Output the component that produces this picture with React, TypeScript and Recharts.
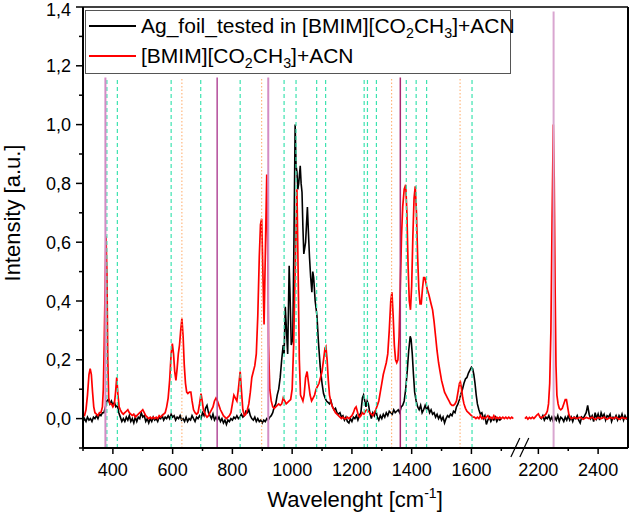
import React from 'react';
import { LineChart, Line, XAxis, YAxis, ReferenceLine, Legend } from 'recharts';

// wavenumber [cm-1], intensity [a.u.] — low range and high range (axis is broken between them)
const agFoilLow: [number, number][] = [
  [300, -0.01], [305, 0.0], [310, -0.01], [315, 0.005], [320, -0.005], [325, 0.0], [330, -0.01], [335, 0.005],
  [340, 0.0], [345, 0.01], [350, 0.0], [355, 0.015], [360, 0.01], [365, 0.02], [370, 0.02], [375, 0.04],
  [380, 0.06], [385, 0.065], [390, 0.05], [395, 0.06], [400, 0.045], [405, 0.055], [410, 0.04], [415, 0.045],
  [420, 0.02], [425, 0.005], [430, -0.01], [435, 0.0], [440, -0.01], [445, 0.005], [450, -0.005], [455, 0.01],
  [460, -0.01], [465, 0.0], [470, -0.015], [475, 0.005], [480, -0.01], [485, 0.005], [490, 0.0], [495, 0.02],
  [500, 0.005], [505, 0.01], [510, -0.01], [515, 0.0], [520, -0.015], [525, 0.0], [530, -0.01], [535, 0.005],
  [540, -0.005], [545, 0.0], [550, -0.01], [555, 0.005], [560, 0.0], [565, 0.01], [570, -0.005], [575, 0.005],
  [580, 0.0], [585, 0.01], [590, 0.0], [595, 0.015], [600, 0.005], [605, 0.01], [610, -0.005], [615, 0.005],
  [620, 0.0], [625, 0.01], [630, -0.005], [635, 0.0], [640, -0.01], [645, 0.005], [650, -0.01], [655, 0.0],
  [660, -0.005], [665, 0.01], [670, 0.0], [675, -0.01], [680, 0.005], [685, 0.0], [690, 0.01], [695, 0.0],
  [700, 0.02], [705, 0.01], [710, 0.035], [715, 0.045], [720, 0.02], [725, 0.01], [730, 0.0], [735, 0.015],
  [740, -0.005], [745, 0.005], [750, -0.005], [755, 0.005], [760, -0.01], [765, 0.0], [770, -0.015], [775, -0.005],
  [780, -0.02], [785, -0.005], [790, -0.01], [795, 0.0], [800, -0.005], [805, 0.005], [810, 0.0], [815, 0.01],
  [820, 0.0], [825, 0.005], [830, 0.015], [835, 0.005], [840, 0.01], [845, 0.025], [850, 0.02], [855, 0.03],
  [860, 0.01], [865, 0.0], [870, -0.005], [875, 0.005], [880, -0.01], [885, 0.0], [890, -0.01], [895, -0.005],
  [900, -0.015], [905, -0.005], [910, -0.01], [915, 0.0], [920, -0.005], [925, 0.005], [930, 0.01], [935, 0.02],
  [940, 0.04], [945, 0.05], [950, 0.08], [955, 0.1], [960, 0.14], [965, 0.2], [970, 0.25], [973, 0.22],
  [977, 0.38], [981, 0.3], [985, 0.22], [990, 0.52], [993, 0.42], [997, 0.25], [1002, 0.27], [1006, 0.6],
  [1010, 1.0], [1013, 0.86], [1016, 0.84], [1019, 0.78], [1022, 0.8], [1027, 0.86], [1030, 0.8], [1033, 0.77],
  [1036, 0.65], [1039, 0.56], [1042, 0.58], [1045, 0.6], [1048, 0.66], [1051, 0.72], [1055, 0.62], [1058, 0.55],
  [1062, 0.48], [1066, 0.43], [1069, 0.5], [1072, 0.48], [1077, 0.4], [1083, 0.35], [1088, 0.26], [1094, 0.175],
  [1100, 0.12], [1105, 0.085], [1110, 0.07], [1115, 0.06], [1120, 0.055], [1125, 0.05], [1130, 0.06], [1135, 0.04],
  [1140, 0.03], [1145, 0.035], [1150, 0.02], [1155, 0.015], [1160, 0.02], [1165, 0.005], [1170, 0.01], [1175, -0.005],
  [1180, 0.005], [1185, -0.01], [1190, -0.015], [1195, 0.0], [1200, -0.01], [1205, 0.005], [1210, 0.0], [1215, 0.01],
  [1220, -0.005], [1225, 0.01], [1230, 0.02], [1235, 0.07], [1239, 0.08], [1243, 0.06], [1247, 0.04], [1251, 0.06],
  [1255, 0.05], [1260, 0.02], [1265, 0.0], [1270, 0.02], [1275, 0.01], [1280, 0.03], [1285, 0.005], [1290, -0.005],
  [1295, 0.01], [1300, 0.0], [1305, 0.015], [1310, 0.005], [1315, 0.02], [1320, 0.01], [1325, 0.025], [1330, 0.02],
  [1335, 0.015], [1340, 0.03], [1345, 0.02], [1350, 0.025], [1355, 0.03], [1360, 0.02], [1365, 0.04], [1370, 0.045],
  [1375, 0.06], [1380, 0.1], [1385, 0.16], [1390, 0.23], [1395, 0.28], [1398, 0.27], [1402, 0.22], [1406, 0.15],
  [1410, 0.09], [1415, 0.06], [1420, 0.04], [1425, 0.03], [1430, 0.045], [1435, 0.02], [1440, 0.03], [1445, 0.045],
  [1450, 0.03], [1455, 0.04], [1460, 0.02], [1465, 0.03], [1470, 0.015], [1475, 0.02], [1480, 0.005], [1485, 0.015],
  [1490, 0.0], [1495, 0.01], [1500, -0.005], [1505, 0.005], [1510, -0.015], [1515, 0.0], [1520, 0.01], [1525, 0.005],
  [1530, 0.015], [1535, 0.01], [1540, 0.025], [1545, 0.02], [1550, 0.04], [1555, 0.05], [1560, 0.065], [1565, 0.085],
  [1570, 0.1], [1575, 0.12], [1580, 0.135], [1585, 0.14], [1590, 0.155], [1595, 0.165], [1600, 0.175], [1604, 0.17],
  [1608, 0.15], [1612, 0.12], [1616, 0.08], [1620, 0.05], [1625, 0.03], [1630, 0.015], [1635, 0.02], [1640, 0.0],
  [1645, 0.01], [1650, -0.02], [1655, -0.005], [1660, 0.005], [1665, -0.01], [1670, 0.0], [1675, -0.005], [1680, 0.005],
  [1685, -0.01], [1690, 0.0], [1695, -0.005], [1700, 0.0],
];

const agFoilHigh: [number, number][] = [
  [2205, 0.005], [2210, 0.0], [2215, 0.01], [2220, -0.005], [2225, 0.005], [2230, 0.0], [2235, 0.01], [2240, -0.005],
  [2245, 0.005], [2250, -0.01], [2255, 0.005], [2260, -0.005], [2265, 0.01], [2270, -0.01], [2275, 0.005], [2280, 0.0],
  [2285, -0.01], [2290, 0.005], [2295, -0.005], [2300, 0.01], [2305, -0.005], [2310, 0.005], [2315, -0.01], [2320, 0.005],
  [2325, 0.0], [2330, 0.01], [2335, -0.005], [2340, -0.015], [2345, 0.005], [2350, 0.0], [2355, 0.01], [2360, 0.02],
  [2365, 0.045], [2370, 0.015], [2375, 0.0], [2380, 0.01], [2385, -0.01], [2390, 0.02], [2395, 0.0], [2400, 0.015],
  [2405, -0.005], [2410, 0.02], [2415, 0.005], [2420, 0.015], [2425, -0.005], [2430, 0.01], [2435, 0.005], [2440, 0.015],
  [2445, -0.01], [2450, 0.005], [2455, 0.0], [2460, 0.01], [2465, -0.005], [2470, 0.01], [2475, 0.0], [2480, 0.015],
  [2485, -0.005], [2490, 0.01], [2495, 0.0], [2500, 0.005],
];

const bmimLow: [number, number][] = [
  [300, 0.01], [305, 0.01], [310, 0.03], [315, 0.08], [320, 0.15], [324, 0.17], [328, 0.15], [332, 0.09],
  [336, 0.04], [340, 0.02], [345, 0.015], [350, 0.01], [355, 0.02], [360, 0.02], [365, 0.04], [368, 0.1],
  [371, 0.25], [374, 0.45], [377, 0.62], [380, 0.5], [383, 0.2], [386, 0.07], [390, 0.05], [395, 0.05],
  [400, 0.04], [405, 0.05], [409, 0.09], [413, 0.14], [417, 0.08], [421, 0.04], [425, 0.03], [430, 0.02],
  [435, 0.015], [440, 0.02], [445, 0.025], [450, 0.03], [455, 0.02], [460, 0.015], [465, 0.01], [470, 0.015],
  [475, 0.005], [480, 0.01], [485, 0.015], [490, 0.02], [495, 0.025], [500, 0.03], [505, 0.02], [510, 0.01],
  [515, 0.005], [520, 0.0], [525, 0.005], [530, 0.0], [535, 0.005], [540, 0.0], [545, 0.005], [550, 0.0],
  [555, 0.01], [560, 0.005], [565, 0.01], [570, 0.015], [575, 0.02], [580, 0.04], [585, 0.07], [590, 0.13],
  [595, 0.22], [599, 0.255], [603, 0.22], [607, 0.16], [611, 0.13], [615, 0.17], [619, 0.22], [623, 0.25],
  [627, 0.3], [631, 0.34], [635, 0.28], [639, 0.18], [643, 0.12], [647, 0.09], [651, 0.085], [656, 0.09],
  [661, 0.09], [665, 0.06], [670, 0.03], [675, 0.02], [680, 0.015], [685, 0.02], [690, 0.05], [695, 0.085],
  [699, 0.06], [703, 0.03], [707, 0.02], [711, 0.01], [715, 0.005], [720, 0.01], [725, 0.02], [730, 0.03],
  [735, 0.04], [740, 0.06], [745, 0.07], [750, 0.06], [755, 0.045], [760, 0.03], [765, 0.02], [770, 0.01],
  [775, 0.005], [780, 0.0], [785, 0.005], [790, 0.01], [795, 0.02], [800, 0.05], [805, 0.08], [810, 0.07],
  [815, 0.06], [820, 0.1], [826, 0.16], [830, 0.1], [835, 0.03], [840, 0.01], [845, 0.015], [850, 0.03],
  [855, 0.05], [860, 0.09], [865, 0.14], [870, 0.16], [875, 0.18], [880, 0.22], [885, 0.35], [890, 0.55],
  [894, 0.66], [898, 0.68], [902, 0.5], [906, 0.32], [910, 0.55], [915, 0.83], [918, 0.6], [921, 0.25],
  [925, 0.1], [930, 0.06], [935, 0.04], [940, 0.035], [945, 0.04], [950, 0.045], [955, 0.05], [960, 0.045],
  [965, 0.05], [970, 0.07], [975, 0.06], [980, 0.05], [985, 0.055], [990, 0.06], [995, 0.065], [1000, 0.1],
  [1005, 0.25], [1010, 0.5], [1016, 0.78], [1020, 0.5], [1024, 0.2], [1028, 0.08], [1032, 0.07], [1036, 0.06],
  [1040, 0.08], [1045, 0.14], [1050, 0.16], [1055, 0.12], [1060, 0.08], [1065, 0.06], [1070, 0.07], [1075, 0.08],
  [1080, 0.1], [1085, 0.11], [1090, 0.12], [1095, 0.14], [1100, 0.16], [1105, 0.2], [1110, 0.24], [1113, 0.245],
  [1117, 0.2], [1121, 0.13], [1125, 0.08], [1130, 0.055], [1135, 0.04], [1140, 0.03], [1145, 0.02], [1150, 0.015],
  [1155, 0.01], [1160, 0.005], [1165, 0.0], [1170, 0.005], [1175, 0.0], [1180, 0.0], [1185, 0.005], [1190, 0.0],
  [1195, 0.005], [1200, 0.01], [1205, 0.02], [1210, 0.035], [1214, 0.04], [1218, 0.025], [1222, 0.01], [1226, 0.005],
  [1230, 0.01], [1235, 0.02], [1240, 0.015], [1245, 0.025], [1250, 0.03], [1255, 0.025], [1260, 0.02], [1265, 0.015],
  [1270, 0.01], [1275, 0.02], [1280, 0.03], [1285, 0.045], [1290, 0.06], [1295, 0.09], [1300, 0.12], [1305, 0.15],
  [1310, 0.17], [1315, 0.19], [1320, 0.22], [1325, 0.3], [1330, 0.4], [1334, 0.43], [1338, 0.35], [1342, 0.25],
  [1346, 0.2], [1350, 0.19], [1354, 0.2], [1358, 0.28], [1362, 0.45], [1366, 0.62], [1370, 0.72], [1375, 0.78],
  [1380, 0.795], [1384, 0.7], [1388, 0.52], [1392, 0.4], [1396, 0.37], [1400, 0.45], [1404, 0.62], [1408, 0.75],
  [1412, 0.79], [1416, 0.7], [1420, 0.55], [1424, 0.44], [1428, 0.39], [1432, 0.39], [1436, 0.44], [1440, 0.48],
  [1444, 0.48], [1448, 0.46], [1452, 0.44], [1458, 0.42], [1465, 0.39], [1470, 0.37], [1475, 0.33], [1480, 0.28],
  [1485, 0.23], [1490, 0.19], [1495, 0.16], [1500, 0.13], [1505, 0.11], [1510, 0.09], [1515, 0.08], [1520, 0.07],
  [1525, 0.06], [1530, 0.05], [1535, 0.045], [1540, 0.045], [1545, 0.05], [1550, 0.06], [1555, 0.09], [1560, 0.12],
  [1563, 0.125], [1567, 0.1], [1571, 0.07], [1575, 0.05], [1580, 0.035], [1585, 0.025], [1590, 0.02], [1595, 0.015],
  [1600, 0.01], [1605, 0.005], [1610, 0.005], [1615, 0.0], [1620, 0.005], [1625, 0.0], [1630, 0.01], [1635, 0.0],
  [1640, 0.005], [1645, 0.0], [1650, 0.005], [1655, 0.01], [1660, 0.0], [1665, 0.005], [1670, 0.0], [1675, 0.01],
  [1680, 0.0], [1685, 0.005], [1690, 0.0], [1695, 0.005], [1700, 0.0], [1705, 0.005], [1710, 0.0], [1715, 0.005],
  [1720, 0.0], [1725, 0.005], [1730, 0.0], [1735, 0.005], [1740, 0.0],
];

const bmimHigh: [number, number][] = [
  [2155, 0.0], [2160, 0.005], [2165, -0.002], [2170, 0.004], [2175, 0.0], [2180, 0.005], [2185, 0.0], [2190, 0.006],
  [2195, 0.012], [2200, 0.016], [2205, 0.006], [2210, 0.002], [2215, 0.006], [2220, 0.01], [2225, 0.015], [2230, 0.025],
  [2234, 0.05], [2238, 0.12], [2242, 0.3], [2246, 0.68], [2250, 1.0], [2253, 0.82], [2256, 0.45], [2259, 0.18],
  [2262, 0.08], [2266, 0.05], [2270, 0.035], [2275, 0.03], [2280, 0.035], [2285, 0.05], [2290, 0.065], [2294, 0.065],
  [2298, 0.04], [2302, 0.015], [2306, 0.005], [2310, 0.0], [2320, 0.004], [2330, 0.0], [2340, 0.005], [2350, -0.002],
  [2360, 0.004], [2370, 0.0], [2380, 0.005], [2390, -0.003], [2400, 0.004], [2410, 0.0], [2420, 0.005], [2430, -0.002],
  [2440, 0.004], [2450, 0.0], [2460, 0.005], [2470, -0.002], [2480, 0.004], [2490, 0.0], [2500, 0.003],
];

// marker lines for band positions
const pinkBands = [375, 920];
const purpleBands = [749, 1362];
const acnBand = 2251;
const greenBands = [380, 415, 595, 694, 826, 973, 1013, 1082, 1112, 1241, 1252, 1282, 1382, 1415, 1450, 1602];
const orangeBands = [631, 898, 1333, 1562];

const xTicks = [300, 400, 500, 600, 700, 800, 900, 1000, 1100, 1200, 1300, 1400, 1500, 1600, 1700, 2200, 2300, 2400];
const yTicks = [-0.1, 0, 0.1, 0.2, 0.3, 0.4, 0.5, 0.6, 0.7, 0.8, 0.9, 1.0, 1.1, 1.2, 1.3, 1.4];

// broken axis: everything above the break is shifted left
const BREAK_SHIFT = 376;
const toAxis = (v: number) => (v > 2000 ? v - BREAK_SHIFT : v);
const fromAxis = (v: number) => (v > 1760 ? v + BREAK_SHIFT : v);
const X_MAX = 2500 - BREAK_SHIFT;

const toSeries = (low: [number, number][], high: [number, number][]) => [
  ...low.map(([x, y]) => ({ x, y })),
  { x: 1760, y: null },
  ...high.map(([x, y]) => ({ x: toAxis(x), y })),
];

const FONT = '"Liberation Sans", Arial, sans-serif';

const XTick = ({ x, y, payload }: any) => {
  const v = Math.round(fromAxis(payload.value));
  const major = v % 200 === 0;
  return (
    <g>
      <line x1={x} x2={x} y1={y} y2={y + (major ? 6 : 3)} stroke="#000" strokeWidth={1.5} />
      {major && (
        <text x={x} y={y + 28} textAnchor="middle" fontSize={18} fontFamily={FONT} fill="#000">
          {v}
        </text>
      )}
    </g>
  );
};

const YTick = ({ x, y, payload }: any) => {
  const n = Math.round(payload.value * 10);
  const major = n >= 0 && n % 2 === 0;
  return (
    <g>
      <line x1={x} x2={x - (major ? 7 : 4)} y1={y} y2={y} stroke="#000" strokeWidth={1.5} />
      {major && (
        <text x={x - 12} y={Math.max(y + 6.5, 16)} textAnchor="end" fontSize={18} fontFamily={FONT} fill="#000">
          {(n / 10).toFixed(1).replace('.', ',')}
        </text>
      )}
    </g>
  );
};

const Sub = ({ children }: { children: React.ReactNode }) => (
  <span style={{ fontSize: '0.68em', position: 'relative', top: '0.32em' }}>{children}</span>
);

const LegendBox = () => {
  const row = (top: number, color: string, label: React.ReactNode) => (
    <div style={{ position: 'absolute', left: 0, top, height: 30, width: '100%' }}>
      <div style={{ position: 'absolute', left: 3, top: 14, width: 47, height: 2, background: color }} />
      <div style={{ position: 'absolute', left: 55, top: 3, whiteSpace: 'nowrap', lineHeight: '24px' }}>{label}</div>
    </div>
  );
  return (
    <div
      style={{
        position: 'relative',
        width: 426,
        height: 64,
        boxSizing: 'border-box',
        border: '1.5px solid #555',
        background: '#fff',
        fontFamily: FONT,
        fontSize: 21,
        color: '#000',
      }}
    >
      {row(0, '#000', <>Ag_foil_tested in [BMIM][CO<Sub>2</Sub>CH<Sub>3</Sub>]+ACN</>)}
      {row(30, '#ff0000', <>[BMIM][CO<Sub>2</Sub>CH<Sub>3</Sub>]+ACN</>)}
    </div>
  );
};

export default function App() {
  const agFoil = toSeries(agFoilLow, agFoilHigh);
  const bmim = toSeries(bmimLow, bmimHigh);

  return (
    <div style={{ position: 'absolute', left: 0, top: 0, width: 630, height: 520, background: '#fff' }}>
      <LineChart width={630} height={520} margin={{ top: 7, right: 2, bottom: 0, left: 0 }}>
        <XAxis
          type="number"
          dataKey="x"
          domain={[300, X_MAX]}
          ticks={xTicks.map(toAxis)}
          interval={0}
          allowDataOverflow
          height={72}
          tickSize={0}
          tickMargin={0}
          tickLine={false}
          tick={<XTick />}
          axisLine={{ stroke: '#000', strokeWidth: 2 }}
          label={{
            content: () => (
              <text x={355} y={507} textAnchor="middle" fontSize={22} fontFamily={FONT} fill="#000">
                Wavelenght [cm
                <tspan fontSize={14} dy={-9}>-1</tspan>
                <tspan dy={9}>]</tspan>
              </text>
            ),
          }}
        />
        <YAxis
          type="number"
          domain={[-0.1, 1.4]}
          ticks={yTicks}
          interval={0}
          allowDataOverflow
          width={83}
          tickSize={0}
          tickMargin={0}
          tickLine={false}
          tick={<YTick />}
          axisLine={{ stroke: '#000', strokeWidth: 2 }}
          label={{
            content: () => (
              <text
                x={12}
                y={213}
                transform="rotate(-90 12 213)"
                textAnchor="middle"
                dominantBaseline="central"
                fontSize={22}
                fontFamily={FONT}
                fill="#000"
              >
                Intensity [a.u.]
              </text>
            ),
          }}
        />
        <Legend
          layout="vertical"
          align="center"
          verticalAlign="middle"
          wrapperStyle={{ left: 85, top: 10, width: 426, height: 64 }}
          content={() => <LegendBox />}
        />
        <Line
          data={agFoil}
          dataKey="y"
          name="Ag_foil_tested in [BMIM][CO2CH3]+ACN"
          stroke="#000"
          strokeWidth={1.6}
          dot={false}
          type="linear"
          connectNulls={false}
          isAnimationActive={false}
        />
        <Line
          data={bmim}
          dataKey="y"
          name="[BMIM][CO2CH3]+ACN"
          stroke="#ff0000"
          strokeWidth={1.7}
          dot={false}
          type="linear"
          connectNulls={false}
          isAnimationActive={false}
        />
        {greenBands.map((b) => (
          <ReferenceLine
            key={`g${b}`}
            segment={[{ x: b, y: -0.1 }, { x: b, y: 1.16 }]}
            stroke="#3de3b0"
            strokeWidth={1.2}
            strokeDasharray="4 3"
          />
        ))}
        {orangeBands.map((b) => (
          <ReferenceLine
            key={`o${b}`}
            segment={[{ x: b, y: -0.1 }, { x: b, y: 1.16 }]}
            stroke="#ffaa66"
            strokeWidth={1}
            strokeDasharray="1.5 2"
          />
        ))}
        {pinkBands.map((b) => (
          <ReferenceLine
            key={`p${b}`}
            segment={[{ x: b, y: -0.1 }, { x: b, y: 1.16 }]}
            stroke="#d38cc5"
            strokeWidth={2}
          />
        ))}
        {purpleBands.map((b) => (
          <ReferenceLine
            key={`u${b}`}
            segment={[{ x: b, y: -0.1 }, { x: b, y: 1.16 }]}
            stroke={b > 1000 ? '#a8286f' : '#b34d9a'}
            strokeWidth={1.5}
          />
        ))}
        <ReferenceLine
          segment={[{ x: toAxis(acnBand), y: -0.1 }, { x: toAxis(acnBand), y: 1.385 }]}
          stroke="#d9a6d0"
          strokeWidth={2}
        />
        <ReferenceLine y={1.4} stroke="#000" strokeWidth={1.5} />
        <ReferenceLine x={X_MAX} stroke="#000" strokeWidth={2} />
        {/* break marks on the x axis */}
        <ReferenceLine
          segment={[{ x: 1742, y: -0.1 }, { x: 1779, y: -0.1 }]}
          stroke="#fff"
          strokeWidth={4}
          ifOverflow="visible"
        />
        <ReferenceLine
          segment={[{ x: 1732, y: -0.131 }, { x: 1762, y: -0.066 }]}
          stroke="#000"
          strokeWidth={1.2}
          ifOverflow="visible"
        />
        <ReferenceLine
          segment={[{ x: 1762, y: -0.131 }, { x: 1792, y: -0.066 }]}
          stroke="#000"
          strokeWidth={1.2}
          ifOverflow="visible"
        />
      </LineChart>
    </div>
  );
}
